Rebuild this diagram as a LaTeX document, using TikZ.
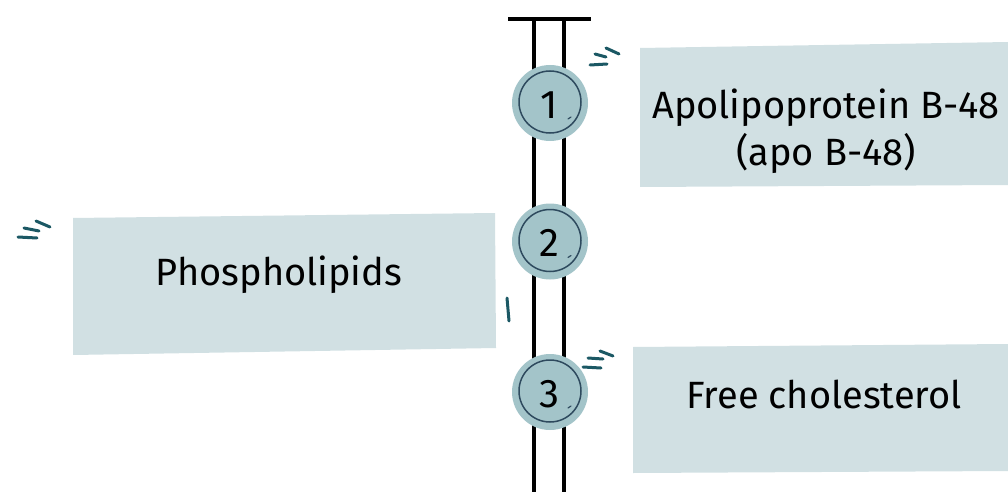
\documentclass[tikz,border=0pt]{standalone}
\usepackage{fontspec}
\setmainfont{Fira Sans}
\definecolor{boxfill}{HTML}{D1E0E3}
\definecolor{circfill}{HTML}{A3C4C9}
\definecolor{circline}{HTML}{2E4A5E}
\definecolor{tealmark}{HTML}{1B5864}
\tikzset{
  bar/.style={line width=3.6pt, black},
  numcirc/.style={circle, fill=circfill, minimum size=76pt, inner sep=0pt},
  innerring/.style={draw=circline, line width=1.5pt},
  decostroke/.style={draw=tealmark, line width=3pt, line cap=round},
  lbl/.style={font=\fontsize{38}{47}\selectfont, align=center, anchor=base, inner sep=0pt},
}
\begin{document}
\begin{tikzpicture}[x=1pt,y=-1pt]
\useasboundingbox (0,0) rectangle (1008,492);
% boxes
\fill[boxfill] (640,48) -- (1008,42) -- (1008,185) -- (640,187) -- cycle;
\fill[boxfill] (73,218) -- (495,213) -- (496,348) -- (73,355) -- cycle;
\fill[boxfill] (633,347) -- (1008,344) -- (1008,471) -- (633,473) -- cycle;
% rails
\coordinate (tl) at (508,19);
\coordinate (tr) at (591,19);
\coordinate (la) at (534,19);
\coordinate (lb) at (534,492);
\coordinate (ra) at (564,19);
\coordinate (rb) at (564,492);
\draw[bar] (tl) -- (tr);
\draw[bar] (la) -- (lb);
\draw[bar] (ra) -- (rb);
% circles
\node[numcirc] (c1) at (550,103) {};
\node[numcirc] (c2) at (550,241.5) {};
\node[numcirc] (c3) at (550,392) {};
\foreach \n/\t in {c1/1,c2/2,c3/3}{
  \draw[innerring] ([shift={(0,-1)}]\n.center) circle[radius=31pt];
  \draw[draw=circline, line width=1.2pt, line cap=round] ([shift={(21,14)}]\n.center) -- ([shift={(18,16)}]\n.center);
  \node[font=\fontsize{40}{44}\selectfont, anchor=base, inner sep=0pt] (\n t) at ([shift={(-1,15)}]\n.center) {\t};
}
% labels
\node[lbl] (l1) at (826,165) {Apolipoprotein B-48\\(apo B-48)};
\node[lbl] (l2) at (279,285) {Phospholipids};
\node[lbl] (l3) at (824,408) {Free cholesterol};
% decorative marks
\draw[decostroke] (606,48) -- (619,54);
\draw[decostroke] (595,54) -- (606,57);
\draw[decostroke] (590,65) -- (607,64);
\draw[decostroke] (600,351) -- (613,356);
\draw[decostroke] (588,358) -- (603,359);
\draw[decostroke] (583,367) -- (601,368);
\draw[decostroke] (36,221) -- (50,227);
\draw[decostroke] (24,228) -- (39,231);
\draw[decostroke] (18,237) -- (37,238);
\draw[decostroke] (507,298) -- (509,321);
\end{tikzpicture}
\end{document}
